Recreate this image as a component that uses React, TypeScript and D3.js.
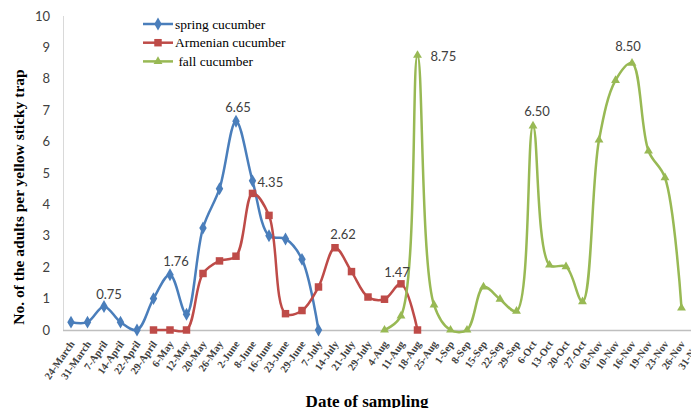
import React, { useRef, useEffect } from "react";
import * as d3 from "d3";

const categories = [
  "24-March", "31-March", "7-April", "14-April", "22-April", "29-April", "6-May",
  "12-May", "20-May", "26-May", "2-June", "8-June", "16-June", "23-June", "29-June",
  "7-July", "14-July", "21-July", "29-July", "4-Aug", "11-Aug", "18-Aug", "25-Aug",
  "1-Sep", "8-Sep", "15-Sep", "22-Sep", "29-Sep", "6-Oct", "13-Oct", "20-Oct",
  "27-Oct", "03-Nov", "10-Nov", "16-Nov", "19-Nov", "23-Nov", "26-Nov", "31-Nov",
];

// each series starts at a given date and runs on consecutive categories
const springStart = "24-March";
const springValues = [0.25, 0.25, 0.75, 0.25, 0, 1.0, 1.76, 0.5, 3.25, 4.5, 6.65, 4.75, 3.0, 2.9, 2.25, 0];

const armenianStart = "29-April";
const armenianValues = [0, 0, 0, 1.8, 2.2, 2.35, 4.35, 3.65, 0.52, 0.62, 1.37, 2.62, 1.86, 1.05, 0.98, 1.47, 0];

const fallStart = "4-Aug";
const fallValues = [0, 0.45, 8.75, 0.8, 0, 0, 1.37, 0.98, 0.6, 6.5, 2.07, 2.02, 0.9, 6.05, 7.95, 8.5, 5.7, 4.85, 0.7];

const yTicks = [0, 1, 2, 3, 4, 5, 6, 7, 8, 9, 10];

const seriesNames = ["spring cucumber", "Armenian cucumber", " fall cucumber"];
const seriesColors = ["#4A7EBB", "#BE4B48", "#98B954"];

const dataLabels = [
  { date: "7-April", value: 0.75, text: "0.75" },
  { date: "6-May", value: 1.76, text: "1.76" },
  { date: "2-June", value: 6.65, text: "6.65" },
  { date: "8-June", value: 4.35, text: "4.35" },
  { date: "14-July", value: 2.62, text: "2.62" },
  { date: "11-Aug", value: 1.47, text: "1.47" },
  { date: "18-Aug", value: 8.75, text: "8.75" },
  { date: "6-Oct", value: 6.5, text: "6.50" },
  { date: "16-Nov", value: 8.5, text: "8.50" },
];

const toPoints = (start, values) => {
  const s = categories.indexOf(start);
  return values.map((v, i) => ({ date: categories[s + i], value: v }));
};

const App = () => {
  const svgRef = useRef(null);

  useEffect(() => {
    const svg = d3.select(svgRef.current);
    svg.selectAll("*").remove();

    const width = 691;
    const height = 408;
    svg.attr("width", width).attr("height", height);

    const x = d3
      .scalePoint()
      .domain(categories)
      .range([62.75, 706.25])
      .padding(0.5);
    const y = d3.scaleLinear().domain([0, 10]).range([330, 16]);

    const sans = "Lato, 'Liberation Sans', sans-serif";
    const serif = "'Liberation Serif', 'Times New Roman', serif";

    // axes lines
    svg
      .append("line")
      .attr("x1", 63.5)
      .attr("x2", 63.5)
      .attr("y1", y(10))
      .attr("y2", y(0))
      .attr("stroke", "#d9d9d9")
      .attr("stroke-width", 1);
    svg
      .append("line")
      .attr("x1", 63)
      .attr("x2", width)
      .attr("y1", y(0) + 0.5)
      .attr("y2", y(0) + 0.5)
      .attr("stroke", "#bfbfbf")
      .attr("stroke-width", 1.5);

    // y tick labels
    svg
      .append("g")
      .selectAll("text")
      .data(yTicks)
      .enter()
      .append("text")
      .attr("x", 50)
      .attr("y", (d) => y(d))
      .attr("dy", "0.35em")
      .attr("text-anchor", "end")
      .attr("font-family", sans)
      .attr("font-size", 13)
      .attr("fill", "#404040")
      .text((d) => d);

    // x tick labels, rotated
    svg
      .append("g")
      .selectAll("text")
      .data(categories)
      .enter()
      .append("text")
      .attr("transform", (d) => `translate(${x(d) + 4},${344}) rotate(-55)`)
      .attr("text-anchor", "end")
      .attr("font-family", serif)
      .attr("font-weight", "bold")
      .attr("font-size", 10.5)
      .attr("fill", "#404040")
      .text((d) => d);

    // axis titles
    svg
      .append("text")
      .attr("transform", `translate(24,197) rotate(-90)`)
      .attr("text-anchor", "middle")
      .attr("font-family", serif)
      .attr("font-weight", "bold")
      .attr("font-size", 15.5)
      .attr("fill", "#000")
      .text("No. of the adults per yellow sticky trap");

    svg
      .append("text")
      .attr("x", 367)
      .attr("y", 407)
      .attr("text-anchor", "middle")
      .attr("font-family", serif)
      .attr("font-weight", "bold")
      .attr("font-size", 17)
      .attr("fill", "#000")
      .text("Date of sampling");

    const line = d3
      .line()
      .x((d) => x(d.date))
      .y((d) => y(d.value))
      .curve(d3.curveCatmullRom.alpha(0.5));

    const series = [
      toPoints(springStart, springValues),
      toPoints(armenianStart, armenianValues),
      toPoints(fallStart, fallValues),
    ];

    const diamond = d3.symbol().type(d3.symbolDiamond).size(48);
    const square = d3.symbol().type(d3.symbolSquare).size(56);
    const triangle = d3.symbol().type(d3.symbolTriangle).size(34);
    const shapes = [diamond, square, triangle];

    const plot = svg.append("g");
    series.forEach((pts, si) => {
      plot
        .append("path")
        .datum(pts)
        .attr("d", line)
        .attr("fill", "none")
        .attr("stroke", seriesColors[si])
        .attr("stroke-width", 2.5)
        .attr("stroke-linejoin", "round");
    });
    series.forEach((pts, si) => {
      plot
        .append("g")
        .selectAll("path")
        .data(pts)
        .enter()
        .append("path")
        .attr("d", shapes[si]())
        .attr("transform", (d) => `translate(${x(d.date)},${y(d.value)})`)
        .attr("fill", seriesColors[si]);
    });

    // data labels
    const labelOffsets = {
      "0.75": [5, -12, "middle"],
      "1.76": [6, -13, "middle"],
      "6.65": [2, -14, "middle"],
      "4.35": [5, -11, "start"],
      "2.62": [8, -13, "middle"],
      "1.47": [-4, -11, "middle"],
      "8.75": [13, 1, "start"],
      "6.50": [4, -14, "middle"],
      "8.50": [-4, -17, "middle"],
    };
    svg
      .append("g")
      .selectAll("text")
      .data(dataLabels)
      .enter()
      .append("text")
      .attr("x", (d) => x(d.date) + labelOffsets[d.text][0])
      .attr("y", (d) => y(d.value) + labelOffsets[d.text][1])
      .attr("dy", "0.35em")
      .attr("text-anchor", (d) => labelOffsets[d.text][2])
      .attr("font-family", sans)
      .attr("font-size", 13)
      .attr("fill", "#404040")
      .text((d) => d.text);

    // legend
    const legend = svg.append("g").attr("transform", "translate(143,24)");
    seriesNames.forEach((name, i) => {
      const g = legend.append("g").attr("transform", `translate(0,${i * 18.7})`);
      g.append("line")
        .attr("x1", 0)
        .attr("x2", 30)
        .attr("stroke", seriesColors[i])
        .attr("stroke-width", 2.5);
      g.append("path")
        .attr("d", shapes[i]())
        .attr("transform", "translate(15,0)")
        .attr("fill", seriesColors[i]);
      g.append("text")
        .attr("x", 32)
        .attr("dy", "0.35em")
        .attr("font-family", serif)
        .attr("font-size", 13.5)
        .attr("fill", "#000")
        .attr("xml:space", "preserve")
        .style("white-space", "pre")
        .text(name);
    });
  }, []);

  return (
    <svg
      ref={svgRef}
      style={{ position: "absolute", left: 0, top: 0, display: "block", background: "#fff" }}
    ></svg>
  );
};

export default App;
